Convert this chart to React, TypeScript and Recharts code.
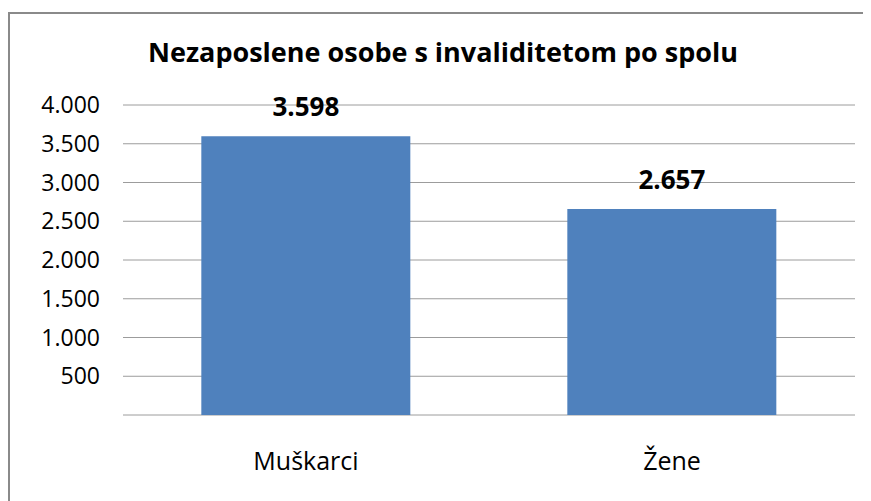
import { BarChart, Bar, XAxis, YAxis, CartesianGrid, LabelList } from "recharts";

const categories = ["Muškarci", "Žene"];
const values = [3598, 2657];
const yTicks = [0, 500, 1000, 1500, 2000, 2500, 3000, 3500, 4000];

const data = categories.map((name, i) => ({ name, value: values[i] }));

const fmt = (v: number) => v.toLocaleString("de-DE");
const FONT = "'Open Sans', Lato, sans-serif";

export default function App() {
    return (
        <div
            style={{
                position: "relative",
                marginTop: 4,
                width: 861,
                height: 489,
                borderLeft: "2px solid #8a8a8a",
                borderTop: "2px solid #8a8a8a",
                fontFamily: FONT,
                background: "#fff",
            }}
        >
            <div
                style={{
                    position: "absolute",
                    left: 0,
                    width: 866,
                    top: 19,
                    lineHeight: "38px",
                    textAlign: "center",
                    fontSize: 27,
                    fontWeight: "bold",
                    color: "#000",
                }}
            >
                Nezaposlene osobe s invaliditetom po spolu
            </div>
            <BarChart
                width={861}
                height={487}
                data={data}
                margin={{ top: 91, right: 16, left: 0, bottom: 0 }}
                barCategoryGap="21.4%"
            >
                <CartesianGrid vertical={false} stroke="#9c9c9c" />
                <XAxis
                    dataKey="name"
                    axisLine={false}
                    tickLine={false}
                    tickSize={0}
                    tickMargin={37}
                    height={86}
                    tick={{ fontSize: 25, fill: "#000", fontFamily: FONT }}
                />
                <YAxis
                    domain={[0, 4000]}
                    ticks={yTicks}
                    width={113}
                    axisLine={false}
                    tickLine={false}
                    tickSize={0}
                    tickMargin={23}
                    tickFormatter={(v: number) => (v === 0 ? "" : fmt(v))}
                    tick={{ fontSize: 23, fill: "#000", fontFamily: FONT }}
                />
                <Bar dataKey="value" fill="#4f81bd" isAnimationActive={false}>
                    <LabelList
                        dataKey="value"
                        position="top"
                        offset={20}
                        formatter={(v: number) => fmt(v)}
                        style={{ fontSize: 26, fontWeight: "bold", fill: "#000", fontFamily: FONT }}
                    />
                </Bar>
            </BarChart>
        </div>
    );
}
